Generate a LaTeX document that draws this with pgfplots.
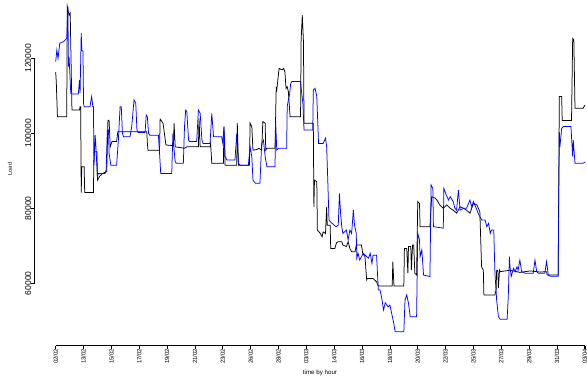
\documentclass[border=0pt]{standalone}
\usepackage{fontspec}
\setmainfont{Liberation Sans}
\usepackage{pgfplots}
\pgfplotsset{compat=1.18}

% hourly load: observed (black) and forecast (blue); x = hour index
\pgfplotsset{
  rstyle/.style={
    scale only axis,
    axis line style={-, black, line width=0.7pt},
    tick align=outside,
    major tick length=3pt,
    major tick style={black, line width=0.7pt},
  },
}
\begin{document}
\begin{tikzpicture}
\useasboundingbox (-34.5pt,-32.3pt) rectangle (552.5pt,345.7pt);
% data panel spanning the whole figure
\begin{axis}[
  scale only axis,
  at={(-34.5pt,-32.3pt)}, anchor=south west,
  width=587pt, height=378pt,
  xmin=-96, xmax=915.7,
  ymin=34746, ymax=135547,
  hide axis,
  clip=false,
]
\addplot[black, line width=0.75pt] coordinates {
(0,116300)(1,113700)(3,104400)(19,104400)(20,133800)(23,131500)(25,132100)(28,106200)(41,106200)(42,107100)(43,107100)(44,84200)(45,91100)(49,91100)(50,84200)(65,84200)(66,95100)(71,95100)(72,87500)(76,88600)(82,89400)(88,89800)(90,103500)(92,103500)(94,96400)(97,97800)(105,97800)(107,100400)(157,100400)(158,97400)(159,95500)(179,95500)(180,103800)(185,102700)(190,96900)(203,96700)(204,102700)(206,96400)(222,96000)(226,96400)(246,96400)(247,104000)(249,96400)(266,96400)(267,97300)(269,92000)(289,92000)(290,101800)(292,91500)(312,91500)(313,102700)(315,91500)(334,91500)(335,102700)(338,101800)(340,95500)(347,95700)(350,96000)(355,95500)(357,103100)(361,102700)(362,95500)(364,96000)(378,96000)(380,112000)(381,111500)(385,117300)(390,116900)(393,117300)(395,116400)(397,112000)(399,112400)(401,111100)(404,104400)(422,104400)(423,124900)(425,131500)(427,124400)(428,102700)(444,102700)(445,80400)(446,87500)(450,87100)(451,74200)(456,73300)(459,72400)(461,73700)(465,73300)(467,80400)(468,75500)(473,75500)(474,69300)(481,69300)(484,70800)(487,71100)(493,71100)(495,70200)(501,69800)(504,71100)(507,69300)(510,68400)(516,68400)(518,70200)(527,70200)(529,68100)(533,67100)(536,60900)(537,61300)(547,61300)(553,60400)(556,59300)(580,59300)(581,65800)(583,59300)(600,59300)(601,69300)(605,69300)(607,62700)(608,69800)(612,69800)(613,63500)(615,70200)(617,70200)(619,62700)(622,62200)(624,81800)(627,81300)(628,75100)(645,75100)(648,83100)(654,82700)(657,82200)(662,80900)(668,80000)(674,80900)(680,80000)(685,79500)(691,78700)(697,80400)(703,80000)(708,79500)(714,78700)(720,81300)(726,80900)(731,79100)(734,64400)(737,63500)(738,56900)(757,56900)(759,58200)(760,63500)(762,63500)(763,58700)(765,63500)(766,63100)(783,63500)(800,62900)(818,63300)(835,63000)(846,63100)(847,62200)(866,62200)(868,109800)(872,109800)(873,103400)(889,103400)(891,125300)(893,124900)(895,106700)(909,106700)(912,107500)
};
\addplot[blue, line width=0.75pt] coordinates {
(0,119100)(2,122200)(4,120000)(7,124000)(13,124400)(19,125300)(21,133800)(22,117800)(23,120400)(26,110700)(28,110500)(39,110500)(41,114200)(42,110700)(44,126700)(45,122200)(47,121800)(48,108000)(49,107100)(59,107100)(62,109800)(64,107100)(65,107100)(66,91500)(68,99500)(69,97300)(72,88000)(73,89300)(85,89300)(87,90200)(89,100900)(91,100900)(92,94700)(95,91500)(105,91500)(108,98200)(111,107100)(113,107100)(115,100000)(117,99100)(128,99100)(131,101800)(135,108900)(138,108000)(140,100900)(142,100200)(154,100200)(156,104900)(158,104400)(160,100000)(162,99500)(177,99500)(179,94700)(181,89300)(200,89300)(202,100000)(203,97300)(206,92400)(208,92000)(220,92000)(222,101800)(224,106200)(226,105800)(229,98200)(231,97800)(243,97800)(246,106200)(249,105300)(252,98200)(254,97300)(266,97300)(269,105300)(272,99100)(286,99100)(288,97300)(290,101800)(292,93800)(295,92900)(309,92900)(312,100000)(315,92000)(318,91500)(332,91500)(335,96400)(338,93800)(340,87500)(344,86700)(352,86700)(355,97300)(358,98200)(361,93800)(364,91100)(378,91100)(379,103500)(381,95500)(384,96000)(398,96000)(399,107100)(401,108900)(403,110200)(405,113300)(407,113800)(422,113800)(424,110700)(426,108000)(428,100900)(443,100900)(444,111500)(447,112000)(450,109800)(453,97300)(461,97300)(465,98700)(467,96400)(469,87100)(471,76900)(474,76300)(483,75100)(487,75500)(489,84000)(491,78700)(493,75100)(495,73300)(501,74200)(504,71600)(507,74200)(510,73300)(513,79500)(515,75500)(518,73300)(519,66700)(521,68000)(524,66200)(530,68000)(536,67100)(539,66700)(542,68000)(545,65300)(547,67500)(553,67500)(554,64400)(556,58200)(559,58200)(562,56000)(565,52900)(568,54800)(573,53700)(576,54200)(579,52000)(582,49800)(585,47100)(600,47100)(602,55500)(605,56900)(608,54700)(611,51100)(622,51100)(624,73300)(627,71600)(628,67100)(631,68900)(634,62200)(645,61800)(647,86200)(650,85300)(651,75100)(668,74700)(669,85300)(672,84000)(677,82200)(680,83100)(685,81800)(688,80000)(691,79500)(694,84900)(697,79500)(703,80000)(708,80000)(714,82200)(717,80400)(720,81800)(726,79500)(728,78700)(731,77800)(734,76900)(740,76900)(743,75100)(746,76000)(749,73300)(751,74200)(755,74200)(757,62700)(760,55500)(763,51100)(766,50400)(778,50400)(780,56400)(782,67100)(783,64400)(785,61800)(789,64000)(792,63100)(795,64400)(797,63500)(800,66200)(803,63100)(809,62700)(823,62700)(826,66200)(829,63100)(832,62700)(843,62700)(846,65800)(849,62200)(852,61900)(866,61900)(867,82200)(868,100400)(869,96400)(872,101300)(875,101800)(888,101800)(889,99100)(891,93800)(892,98200)(895,92000)(909,92000)(912,92300)
};
% axis lines over the tick range, with outward ticks
\addplot[black, line width=0.7pt, forget plot] coordinates {(0,43360)(912,43360)};
\addplot[black, line width=0.7pt, forget plot] coordinates {(-36.5,60000)(-36.5,120000)};
\pgfplotsinvokeforeach{0,48,...,912}{
  \addplot[black, line width=0.7pt, forget plot] coordinates {(#1,43360)(#1,42560)};
}
\pgfplotsinvokeforeach{60000,80000,100000,120000}{
  \addplot[black, line width=0.7pt, forget plot] coordinates {(-36.5,#1)(-41.7,#1)};
}
\end{axis}
% tick labels of the x axis
\begin{axis}[
  rstyle,
  at={(21.2pt,0pt)}, anchor=south west,
  width=529.1pt, height=20pt,
  xmin=0, xmax=912, ymin=0, ymax=1,
  axis x line*=bottom, hide y axis,
  xtick={0,48,...,912},
  xticklabels={02/02,13/02,15/02,17/02,19/02,21/02,23/02,26/02,28/02,03/03,14/03,16/03,18/03,20/03,22/03,25/03,27/03,29/03,31/03,03/04},
  xticklabel style={rotate=90, anchor=east, inner sep=0pt, font=\fontsize{6}{6}\selectfont},
]
\end{axis}
% tick labels of the y axis
\begin{axis}[
  rstyle,
  at={(0pt,62.4pt)}, anchor=south west,
  width=20pt, height=225pt,
  xmin=0, xmax=1, ymin=60000, ymax=120000,
  axis y line*=left, hide x axis,
  ytick={60000,80000,100000,120000},
  yticklabels={60000,80000,100000,120000},
  scaled y ticks=false,
  yticklabel style={rotate=90, anchor=south, inner sep=0pt, font=\fontsize{8.5}{8.5}\selectfont},
]
\end{axis}
\node[font=\fontsize{6.2}{6.2}\selectfont] at (285.5pt,-26.8pt) {time by hour};
\node[rotate=90, font=\fontsize{5.5}{5.5}\selectfont] at (-24.5pt,176.7pt) {Load};
\end{tikzpicture}
\end{document}
